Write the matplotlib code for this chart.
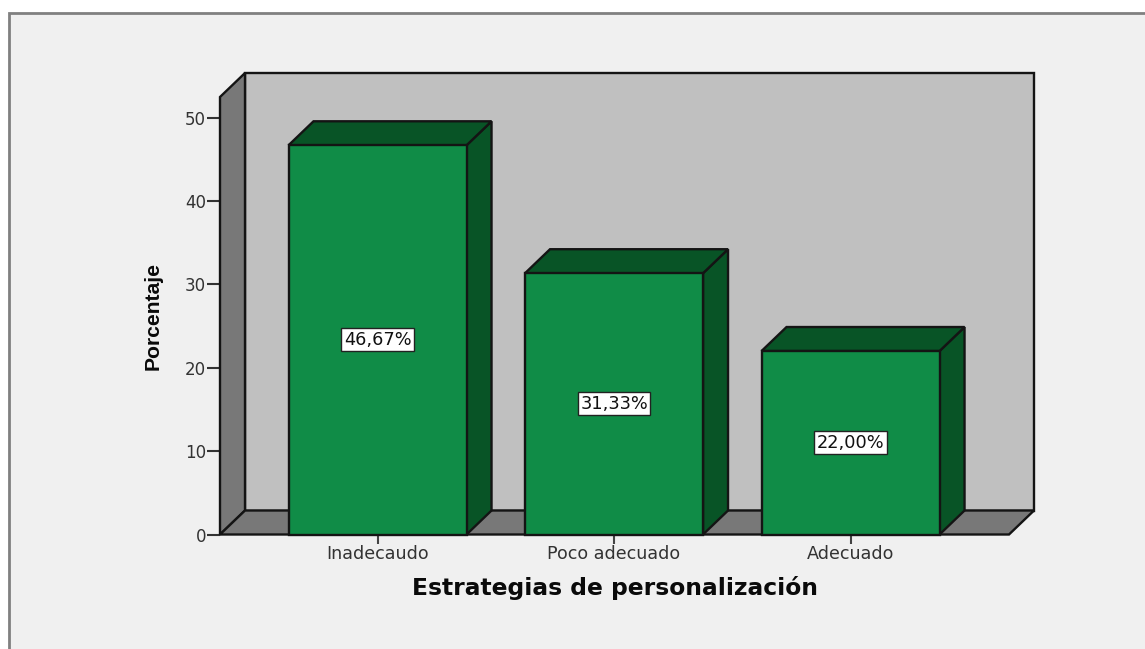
import matplotlib
matplotlib.use("Agg")
import matplotlib.pyplot as plt
from matplotlib.patches import Polygon, Rectangle

categories = ["Inadecaudo", "Poco adecuado", "Adecuado"]
values = [46.67, 31.33, 22.00]
labels = ["46,67%", "31,33%", "22,00%"]
yticks = [0, 10, 20, 30, 40, 50]
xlabel = "Estrategias de personalización"
ylabel = "Porcentaje"

W, H = 1145, 649
fig = plt.figure(figsize=(W / 100, H / 100), dpi=100, facecolor="white")

# Panel
fig.add_artist(Rectangle((9 / W, -0.05), 1.1, 1.05 - 13 / H, transform=fig.transFigure,
                         fc="#f0f0f0", ec="#808080", lw=2, zorder=-1))

ax = fig.add_axes([220 / W, (H - 534.5) / H, 789 / W, (534.5 - 97) / H])
xmin, xmax = -0.666, 2.67
ymax = 52.46
ax.set_xlim(xmin, xmax)
ax.set_ylim(0, ymax)
ax.patch.set_visible(False)

dx = 25 / 236.5
dy = 24 / 8.34
bw = 178 / 236.5
EC = "#141414"
LW = 1.7
GREY = "#787878"
BACK = "#c0c0c0"
FRONT = "#108c47"
TOP = "#085426"

def poly(pts, fc, z):
    ax.add_patch(Polygon(pts, closed=True, fc=fc, ec=EC, lw=LW, zorder=z,
                         clip_on=False, joinstyle="miter"))

# 3D walls
poly([(xmin + dx, dy), (xmax + dx, dy), (xmax + dx, ymax + dy), (xmin + dx, ymax + dy)], BACK, 1)
poly([(xmin, 0), (xmin + dx, dy), (xmin + dx, ymax + dy), (xmin, ymax)], GREY, 2)
poly([(xmin, 0), (xmax, 0), (xmax + dx, dy), (xmin + dx, dy)], GREY, 2)

# Bars
for i, v in enumerate(values):
    l, r = i - bw / 2, i + bw / 2
    poly([(r, 0), (r + dx, dy), (r + dx, v + dy), (r, v)], TOP, 3)
    poly([(l, v), (r, v), (r + dx, v + dy), (l + dx, v + dy)], TOP, 3)
    poly([(l, 0), (r, 0), (r, v), (l, v)], FRONT, 4)
    ax.text(i, v / 2, labels[i], ha="center", va="center", zorder=6, color="#111111",
            fontsize=12.8, family="DejaVu Sans",
            bbox=dict(boxstyle="square,pad=0.14", fc="white", ec="#222222", lw=1))

for s in ax.spines.values():
    s.set_visible(False)
ax.set_xticks(range(len(categories)), categories)
ax.set_yticks(yticks)
ax.tick_params(axis="x", length=6.5, width=1.5, color="#444444", labelcolor="#333333",
               labelsize=12.6, pad=1)
ax.tick_params(axis="y", length=9.5, width=1.5, color="#333333", labelcolor="#333333",
               labelsize=12, pad=0.5)
for t in ax.get_xticklabels() + ax.get_yticklabels():
    t.set_family("DejaVu Sans")

fig.text(614.5 / W, 1 - 588 / H, xlabel, ha="center", va="center", fontsize=16.8,
         fontweight="bold", family="DejaVu Sans", color="#0a0a0a")
fig.text(153 / W, 1 - 315.5 / H, ylabel, ha="center", va="center", rotation=90, fontsize=15.2,
         fontweight="bold", family="Liberation Sans", color="#0a0a0a")

fig.savefig("out.png", dpi=100, facecolor="white")
